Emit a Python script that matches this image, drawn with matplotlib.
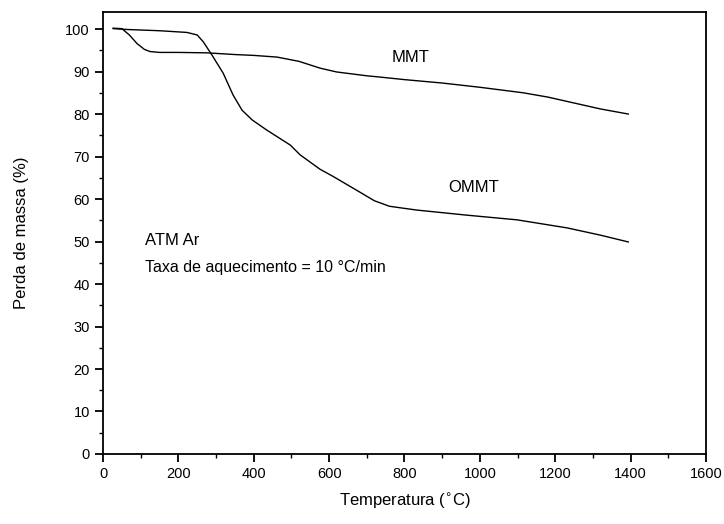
import matplotlib.pyplot as plt
from matplotlib.ticker import MultipleLocator

plt.rcParams['font.family'] = ['Liberation Sans', 'DejaVu Sans']

# MMT curve (temperature in C, mass %)
mmt_t = [27, 50, 70, 90, 110, 125, 150, 200, 276, 350, 400, 462, 520, 576, 620, 700, 735,
         800, 900, 1000, 1115, 1180, 1250, 1320, 1394]
mmt_m = [100.2, 100.1, 98.6, 96.6, 95.2, 94.7, 94.5, 94.5, 94.4, 94.0, 93.8, 93.4, 92.4, 90.8,
         89.9, 89.0, 88.7, 88.1, 87.3, 86.3, 85.0, 84.0, 82.6, 81.2, 80.0]

# OMMT curve
ommt_t = [27, 63, 151, 223, 250, 266, 289, 319, 345, 369, 396, 435, 497, 523, 576, 611,
          682, 720, 760, 800, 833, 966, 1099, 1232, 1320, 1394]
ommt_m = [100.1, 99.9, 99.6, 99.2, 98.6, 97.0, 93.9, 89.6, 84.5, 80.9, 78.6, 76.2, 72.7,
          70.4, 67.0, 65.3, 61.6, 59.6, 58.3, 57.8, 57.4, 56.2, 55.1, 53.2, 51.5, 49.9]

fig = plt.figure(figsize=(7.24, 5.24), dpi=100)
ax = fig.add_axes([0.1423, 0.1336, 0.8327, 0.8434])

ax.plot(mmt_t, mmt_m, color='black', linewidth=1.0)
ax.plot(ommt_t, ommt_m, color='black', linewidth=1.0)

ax.set_xlim(0, 1600)
ax.set_ylim(0, 104)
ax.xaxis.set_major_locator(MultipleLocator(200))
ax.xaxis.set_minor_locator(MultipleLocator(100))
ax.yaxis.set_minor_locator(MultipleLocator(5))
ax.set_yticks(range(0, 101, 10))
ax.tick_params(which='major', direction='out', length=6, width=1.3, labelsize=10.5)
ax.tick_params(which='minor', direction='out', length=3, width=1.0)
for s in ax.spines.values():
    s.set_linewidth(1.3)

ax.set_xlabel('Temperatura ($^{\\circ}$C)', fontsize=12, labelpad=7)
ax.set_ylabel('Perda de massa (%)', fontsize=12, labelpad=26)

ax.text(815, 93.4, 'MMT', fontsize=12, ha='center', va='center')
ax.text(983, 62.8, 'OMMT', fontsize=12, ha='center', va='center')
ax.text(112, 50.3, 'ATM Ar', fontsize=12, ha='left', va='center')
ax.text(112, 43.8, 'Taxa de aquecimento = 10 °C/min', fontsize=11.5, ha='left', va='center')

fig.savefig('out.png', dpi=100)
